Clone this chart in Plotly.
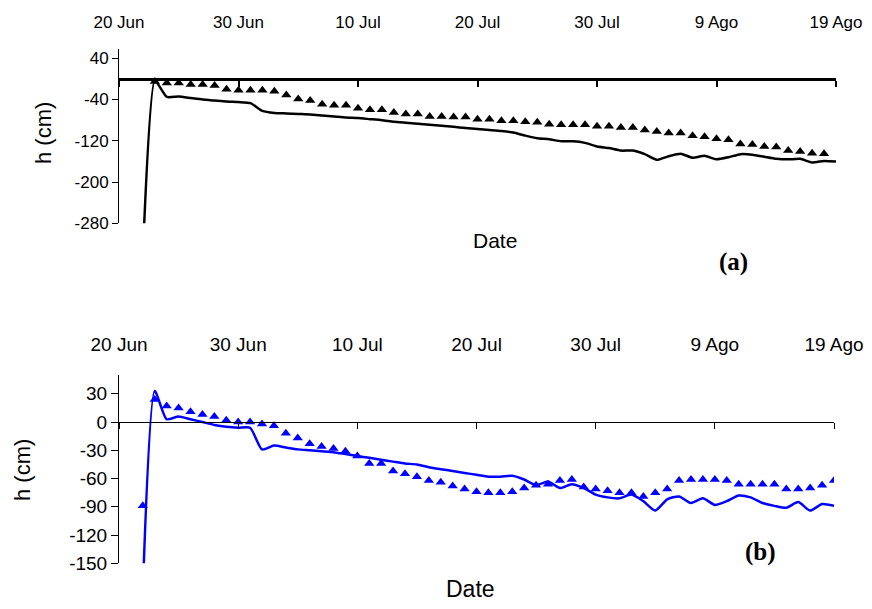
import plotly.graph_objects as go

W, H = 872, 609

# ---------------- data ----------------
tick_days = [0, 10, 20, 30, 40, 50, 60]
tick_labels = ["20 Jun", "30 Jun", "10 Jul", "20 Jul", "30 Jul", "9 Ago", "19 Ago"]

# (a) simulated (line) and observed (triangles)
a_line_days = list(range(2, 61))
a_line_h = [-340, -3, -35, -34, -37, -40, -42, -44, -45, -47,
            -62, -66, -67, -68, -69, -71, -73, -75, -76, -78,
            -80, -83, -85, -87, -89, -91, -93, -95, -97, -99,
            -101, -104, -110, -115, -117, -121, -121, -124, -131, -134,
            -139, -139, -146, -157, -150, -145, -153, -149, -156, -152,
            -146, -147, -151, -155, -156, -155, -162, -159, -160]
a_obs_days = list(range(3, 60))
a_obs_h = [-5, -8, -8, -11, -11, -13, -20, -22, -22, -22,
           -24, -31, -39, -42, -49, -51, -51, -57, -60, -60,
           -65, -68, -68, -73, -73, -74, -74, -78, -78, -81,
           -81, -83, -84, -88, -89, -89, -89, -92, -92, -94,
           -94, -99, -102, -105, -105, -110, -112, -116, -118, -126,
           -127, -131, -132, -139, -141, -144, -145]
a_yticks = [40, -40, -120, -200, -280]

# (b) simulated (line) and observed (triangles)
b_line_days = list(range(2, 61))
b_line_h = [-180, 33, 3, 6, 3, 0, -3, -5, -6, -6,
            -29, -25, -27, -29, -30, -31, -32, -34, -36, -38,
            -40, -42, -44, -45, -48, -50, -52, -54, -56, -58,
            -58, -57, -61, -67, -63, -70, -66, -70, -77, -80,
            -81, -77, -84, -94, -82, -79, -86, -81, -88, -84,
            -78, -80, -86, -89, -91, -85, -94, -87, -89]
b_obs_days = list(range(2, 61))
b_obs_h = [-89, 24, 17, 15, 11, 8, 6, 2, 0, 0,
           -2, -4, -12, -17, -23, -26, -28, -31, -36, -44,
           -44, -52, -55, -58, -62, -64, -68, -71, -74, -75,
           -75, -74, -70, -67, -66, -62, -61, -69, -71, -73,
           -75, -75, -79, -75, -71, -62, -61, -61, -61, -62,
           -66, -66, -66, -66, -71, -71, -70, -67, -62]
b_yticks = [30, 0, -30, -60, -90, -120, -150]

# ---------------- layout helpers ----------------
def px_x(x):
    return x / W

def px_y(y):
    return 1 - y / H

SANS = "Liberation Sans, Arial, sans-serif"
SERIF = "Liberation Serif, Times New Roman, serif"

a_xdom = [px_x(119), px_x(836)]
a_ydom = [px_y(223.3), px_y(49)]
a_yrange = [-280, 58]
b_xdom = [px_x(119), px_x(834)]
b_ydom = [px_y(563.3), px_y(375)]
b_yrange = [-150, 50]
xrange_ = [0, 60]

def zero_pos(dom, rng):
    return dom[0] + (0 - rng[0]) / (rng[1] - rng[0]) * (dom[1] - dom[0])

fig = go.Figure()

# (a)
fig.add_trace(go.Scatter(x=a_line_days, y=a_line_h, mode="lines",
                         line=dict(color="black", width=2.5, shape="spline", smoothing=0.5),
                         xaxis="x", yaxis="y", showlegend=False))
fig.add_trace(go.Scatter(x=a_obs_days, y=a_obs_h, mode="markers",
                         marker=dict(symbol="triangle-up", size=9, color="black"),
                         xaxis="x", yaxis="y", showlegend=False))
fig.add_trace(go.Scatter(x=[], y=[], xaxis="x3", yaxis="y", showlegend=False))

# (b)
fig.add_trace(go.Scatter(x=b_line_days, y=b_line_h, mode="lines",
                         line=dict(color="#0000FF", width=2.5, shape="spline", smoothing=0.6),
                         xaxis="x2", yaxis="y2", showlegend=False))
fig.add_trace(go.Scatter(x=b_obs_days, y=b_obs_h, mode="markers",
                         marker=dict(symbol="triangle-up", size=9, color="#0000FF"),
                         xaxis="x2", yaxis="y2", showlegend=False))
fig.add_trace(go.Scatter(x=[], y=[], xaxis="x4", yaxis="y2", showlegend=False))

label_axis = dict(side="top", anchor="free", showline=False, ticks="", showgrid=False,
                  zeroline=False, tickmode="array", tickvals=tick_days, ticktext=tick_labels,
                  range=xrange_, automargin=False)
zero_axis = dict(side="bottom", anchor="free", showline=True, linecolor="black",
                 ticks="outside", tickcolor="black", ticklen=6, showticklabels=False,
                 showgrid=False, zeroline=False, tickmode="array", tickvals=tick_days,
                 range=xrange_, automargin=False)

fig.update_layout(
    template="none",
    width=W, height=H,
    margin=dict(l=0, r=0, t=0, b=0, autoexpand=False),
    paper_bgcolor="white", plot_bgcolor="white",
    font=dict(family=SANS, color="black"),
    xaxis=dict(label_axis, domain=a_xdom, position=px_y(31),
               tickfont=dict(size=17, family=SANS, color="black")),
    xaxis3=dict(zero_axis, domain=a_xdom, overlaying="x",
                position=zero_pos(a_ydom, a_yrange), linewidth=2.5, tickwidth=2),
    yaxis=dict(domain=a_ydom, range=a_yrange, anchor="x", showline=True, linecolor="black",
               linewidth=1, ticks="outside", ticklen=6, tickcolor="black", showgrid=False,
               zeroline=False, tickmode="array", tickvals=a_yticks,
               ticktext=[str(v) for v in a_yticks], automargin=False,
               tickfont=dict(size=17, family=SANS, color="black")),
    xaxis2=dict(label_axis, domain=b_xdom, position=px_y(355),
                tickfont=dict(size=19, family=SANS, color="black")),
    xaxis4=dict(zero_axis, domain=b_xdom, overlaying="x2",
                position=zero_pos(b_ydom, b_yrange), linewidth=1, tickwidth=1),
    yaxis2=dict(domain=b_ydom, range=b_yrange, anchor="x2", showline=True, linecolor="black",
                linewidth=1, ticks="outside", ticklen=7, tickcolor="black", showgrid=False,
                zeroline=False, tickmode="array", tickvals=b_yticks,
                ticktext=[str(v) for v in b_yticks], automargin=False,
                tickfont=dict(size=19, family=SANS, color="black")),
)

ann = [
    dict(text="h (cm)", x=px_x(43), y=px_y(133), textangle=-90, font=dict(size=22, family=SANS)),
    dict(text="Date", x=px_x(495), y=px_y(240.5), font=dict(size=21, family=SANS)),
    dict(text="<b>(a)</b>", x=px_x(733), y=px_y(262), font=dict(size=25, family=SERIF)),
    dict(text="h (cm)", x=px_x(23), y=px_y(470), textangle=-90, font=dict(size=22, family=SANS)),
    dict(text="Date", x=px_x(470), y=px_y(588.5), font=dict(size=23, family=SANS)),
    dict(text="<b>(b)</b>", x=px_x(760), y=px_y(552), font=dict(size=25, family=SERIF)),
]
for a in ann:
    fig.add_annotation(xref="paper", yref="paper", showarrow=False,
                       xanchor="center", yanchor="middle", **a)

fig.write_html("out.html")
